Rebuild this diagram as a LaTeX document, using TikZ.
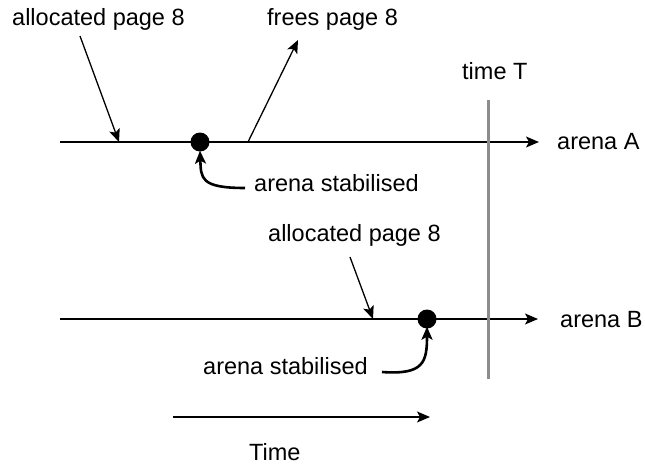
\documentclass[tikz,border=0pt]{standalone}
\usepackage{fontspec}
\setmainfont{Liberation Sans}
\usetikzlibrary{arrows.meta}
\begin{document}
\begin{tikzpicture}[x=1pt,y=-1pt,
  lbl/.style={anchor=base west,inner sep=0pt,font=\fontsize{23.5}{28}\selectfont},
  thinarrow/.style={line width=1.3pt,-{Stealth[length=13pt,width=11pt,inset=3pt]}},
  curvearrow/.style={line width=2.6pt,-{Stealth[length=13pt,width=11pt,inset=3pt]}},
  dot/.style={circle,fill=black,inner sep=0pt,minimum size=19pt},
  marker/.style={line width=3pt,draw=black!45}]
\useasboundingbox (0,0) rectangle (645,466);

% timelines
\coordinate (aS) at (60,142);
\coordinate (aE) at (539,142);
\coordinate (bS) at (60,319);
\coordinate (bE) at (538,319);
\draw[thinarrow] (aS) -- (aE);
\draw[thinarrow] (bS) -- (bE);

% time T marker
\coordinate (tTop) at (488,100);
\coordinate (tBot) at (488,379);
\draw[marker] (tTop) -- (tBot);

% stabilisation points
\node[dot] (dotA) at (200,142) {};
\node[dot] (dotB) at (427,319) {};

% labels
\node[lbl] (allocA) at (12,25) {allocated page 8};
\node[lbl] (freeA) at (267,25) {frees page 8};
\node[lbl] (timeT) at (462,79) {time T};
\node[lbl] (arenaA) at (557,149) {arena A};
\node[lbl] (stabA) at (254,191) {arena stabilised};
\node[lbl] (allocB) at (268,241) {allocated page 8};
\node[lbl] (arenaB) at (560,327) {arena B};
\node[lbl] (stabB) at (203,374) {arena stabilised};
\node[lbl] (timeL) at (249,460) {Time};

% events on arena A
\coordinate (allocAfrom) at (80,36);
\coordinate (allocAat) at (119,142);
\draw[thinarrow] (allocAfrom) -- (allocAat);
\coordinate (freeAat) at (248,142);
\coordinate (freeAto) at (298,40);
\draw[thinarrow] (freeAat) -- (freeAto);
\coordinate (stabAfrom) at (245,188);
\draw[curvearrow] (stabAfrom) .. controls (200,188) and (201,178) .. ([yshift=1pt]dotA.south);

% events on arena B
\coordinate (allocBfrom) at (350,257);
\coordinate (allocBat) at (373,319);
\draw[thinarrow] (allocBfrom) -- (allocBat);
\coordinate (stabBfrom) at (382,372);
\draw[curvearrow] (stabBfrom) .. controls (424,375) and (427,362) .. ([yshift=2pt]dotB.south);

% time axis
\coordinate (tS) at (173,417);
\coordinate (tE) at (430,417);
\draw[thinarrow] (tS) -- (tE);
\end{tikzpicture}
\end{document}
